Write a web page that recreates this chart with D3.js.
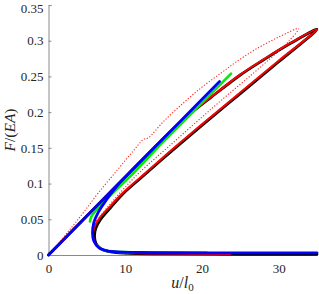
<!DOCTYPE html>
<html><head><meta charset="utf-8">
<script src="https://cdn.jsdelivr.net/npm/d3@7"></script>
<style>body{margin:0;background:#fff}svg{display:block}</style>
</head><body>
<svg id="c" width="319" height="294"></svg>
<script>
// Tick values
const xTicks = [0, 10, 20, 30];
const yTicks = [0, 0.05, 0.1, 0.15, 0.2, 0.25, 0.3, 0.35];

// Black solid: loading (origin -> peak) then unloading branch to nose and along axis
const blackCurve = [[0,0],[15,0.1635],[17,0.184],[18.5,0.198],[21.1,0.220],[25,0.252],[28,0.273],[31.5,0.296],[35,0.316],
  [30,0.2705],[25,0.226],[20,0.1815],[16,0.145],[12,0.1075],[9.6,0.0845],[7.9,0.064],[6.8,0.050],[6.15,0.037],[6.0,0.026],
  [6.2,0.016],[6.8,0.009],[7.8,0.005],[10,0.0025],[15,0.0015],[25,0.001],[35,0.001]];

// Red solid
const redCurve = [[0,0],[15,0.1635],[17,0.184],[18.5,0.1985],[21.1,0.2205],[25,0.2525],[28,0.2735],[31.5,0.2965],[35,0.316],
  [30,0.272],[25,0.2275],[20,0.183],[16,0.1465],[12,0.109],[9.6,0.086],[7.8,0.0655],[6.6,0.051],[5.95,0.038],[5.8,0.028],
  [6.0,0.017],[6.6,0.010],[7.6,0.006],[10,0.003],[15,0.002],[23.7,0.0015]];

// Red dotted
const redDotted = [[1.3,0.016],[2.5,0.032],[3.5,0.045],[4.8,0.063],[6.5,0.087],[8.9,0.118],[11,0.145],[12.4,0.162],[13,0.164],
  [15,0.187],[17.6,0.213],[20,0.235],[22.4,0.254],[24.3,0.269],[27,0.288],[30,0.305],[32.6,0.317],
  [31.3,0.299],[29,0.276],[26,0.248],[23,0.221],[20,0.193],[16,0.155],[12,0.117],[10,0.095],[8.5,0.077],[7,0.058],[5.7,0.040]];

// Green
const greenAxis = [[20.6,0.0035],[15,0.0037],[10,0.004],[7.5,0.006],[6.6,0.010],[6.3,0.014]];
const greenRise = [[5.4,0.047],[5.6,0.054],[6.5,0.066],[8,0.083],[10.65,0.110],[15,0.159],[20,0.213],[23.8,0.254]];

// Blue
const blueLine = [[0,0],[22.3,0.243]];
const blueNose = [[35,0.003],[20,0.003],[12,0.0035],[9,0.0045],[7.8,0.0055],[6.6,0.010],[5.9,0.020],[5.74,0.030],[5.9,0.045],
  [6.5,0.060],[7.4,0.075],[8.3,0.088],[9.2,0.1003]];

const svg = d3.select("#c");
const x = d3.scaleLinear().domain([0,35]).range([48.5,317]);
const y = d3.scaleLinear().domain([0,0.35]).range([255,5]);
const lineC = d3.line().x(d=>x(d[0])).y(d=>y(d[1])).curve(d3.curveCatmullRom.alpha(0.5));

const font = "Liberation Serif, DejaVu Serif, serif";

// axes
const xAxis = d3.axisBottom(x).tickValues(xTicks).tickSize(-3).tickPadding(6).tickFormat(d3.format("d"));
const yAxis = d3.axisLeft(y).tickValues(yTicks).tickSize(-3).tickPadding(5).tickFormat(d=>d===0?"0":String(d));
const gx = svg.append("g").attr("transform","translate(0,255)").call(xAxis);
const gy = svg.append("g").attr("transform","translate(48.5,0)").call(yAxis);
[gx,gy].forEach(g=>{
  g.attr("font-family",font).attr("font-size",13);
  g.select(".domain").attr("stroke","#8a8a8a").attr("stroke-width",1);
  g.selectAll(".tick line").attr("stroke","#8a8a8a");
  g.selectAll(".tick text").attr("fill","#262626");
});
gx.selectAll(".tick text").attr("dy","0.9em");
gy.selectAll(".tick text").filter((d,i)=>i===yTicks.length-1).attr("dy","0.6em");

const plot = svg.append("g").attr("fill","none").attr("stroke-linejoin","round").attr("stroke-linecap","round");
plot.append("path").attr("d",lineC(blackCurve)).attr("stroke","#000").attr("stroke-width",2.8);
plot.append("path").attr("d",lineC(redCurve)).attr("stroke","#ff0000").attr("stroke-width",2);
plot.append("path").attr("d",lineC(greenAxis)).attr("stroke","#00ee00").attr("stroke-width",2.6);
plot.append("path").attr("d",lineC(greenRise)).attr("stroke","#00ee00").attr("stroke-width",2.6);
plot.append("path").attr("d",lineC(redDotted)).attr("stroke","#ff2020").attr("stroke-width",1.1)
  .attr("stroke-dasharray","1.2,1.8").attr("stroke-linecap","butt");
plot.append("path").attr("d",lineC(blueLine)).attr("stroke","#0000ff").attr("stroke-width",2.8);
plot.append("path").attr("d",lineC(blueNose)).attr("stroke","#0000ff").attr("stroke-width",2.8);

// axis labels
const xl = svg.append("text").attr("x",182.5).attr("y",288).attr("text-anchor","middle")
  .attr("font-family",font).attr("font-size",16).attr("fill","#262626");
xl.append("tspan").attr("font-style","italic").text("u");
xl.append("tspan").text("/");
xl.append("tspan").attr("font-style","italic").text("l");
xl.append("tspan").attr("dy","3").attr("font-size",11).text("0");

const yl = svg.append("text").attr("transform","translate(15,130) rotate(-90)").attr("text-anchor","middle")
  .attr("font-family",font).attr("font-size",15.5).attr("fill","#262626");
yl.append("tspan").attr("font-style","italic").text("F");
yl.append("tspan").text("/(");
yl.append("tspan").attr("font-style","italic").text("EA");
yl.append("tspan").text(")");
</script>
</body></html>
